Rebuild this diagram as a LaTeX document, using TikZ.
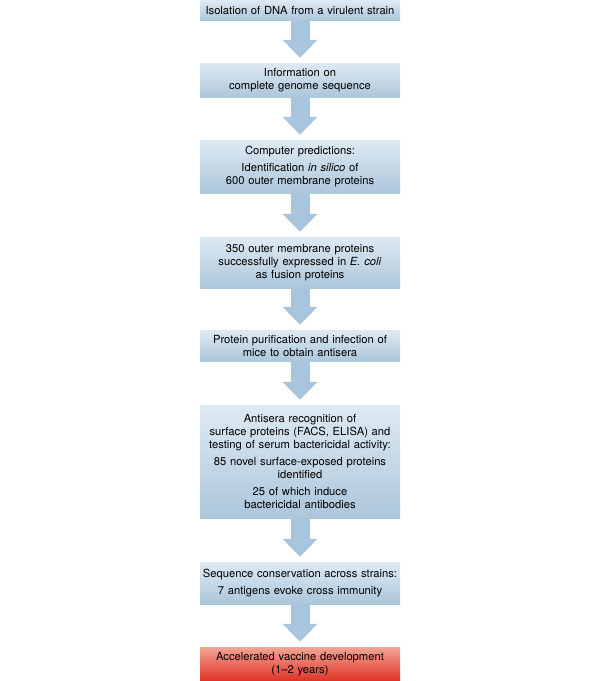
\documentclass[tikz,border=0pt]{standalone}
\usepackage{fontspec}
\setmainfont{TeX Gyre Heros}
\usetikzlibrary{arrows.meta}
\definecolor{boxtop}{RGB}{222,234,243}
\definecolor{boxbottom}{RGB}{172,198,219}
\definecolor{redtop}{RGB}{243,165,150}
\definecolor{redbottom}{RGB}{224,50,38}
\definecolor{arrowblue}{RGB}{168,197,221}
\tikzstyle{stepbox} = [rectangle, top color=boxtop, bottom color=boxbottom,
    minimum width=200pt, text width=200pt, inner xsep=0pt, inner ysep=2pt, align=center,
    font=\fontsize{11.2}{13}\selectfont]
\tikzstyle{endbox} = [stepbox, top color=redtop, bottom color=redbottom]
\tikzstyle{flowarrow} = [draw=arrowblue, line width=19pt,
    -{Triangle[width=34pt,length=18pt]}, shorten >=5pt]

\begin{document}
\begin{tikzpicture}
\useasboundingbox (0,0) rectangle (600pt,-681pt);
\node [stepbox, minimum height=20pt] (isolation) at (300pt,-10pt)
    {Isolation of DNA from a virulent strain};
\node [stepbox, minimum height=34pt] (genome) at (300pt,-80pt)
    {Information on\\complete genome sequence};
\node [stepbox, minimum height=53pt] (predict) at (300pt,-166.5pt)
    {Computer predictions:\\[4pt]
     Identification \textit{in silico} of\\600 outer membrane proteins};
\node [stepbox, minimum height=51pt] (express) at (300pt,-262.5pt)
    {350 outer membrane proteins\\successfully expressed in \textit{E. coli}\\as fusion proteins};
\node [stepbox, minimum height=31pt] (purify) at (300pt,-345.5pt)
    {Protein purification and infection of\\mice to obtain antisera};
\node [stepbox, minimum height=113pt] (antisera) at (300pt,-461.5pt)
    {Antisera recognition of\\surface proteins (FACS, ELISA) and\\testing of serum bactericidal activity:\\[4pt]
     85 novel surface-exposed proteins\\identified\\[4pt]
     25 of which induce\\bactericidal antibodies};
\node [stepbox, minimum height=42pt] (conserve) at (300pt,-583pt)
    {Sequence conservation across strains:\\[4pt]
     7 antigens evoke cross immunity};
\node [endbox, minimum height=34pt] (vaccine) at (300pt,-664pt)
    {Accelerated vaccine development\\(1--2 years)};

\draw [flowarrow] (isolation) -- (genome);
\draw [flowarrow] (genome) -- (predict);
\draw [flowarrow] (predict) -- (express);
\draw [flowarrow] (express) -- (purify);
\draw [flowarrow] (purify) -- (antisera);
\draw [flowarrow] (antisera) -- (conserve);
\draw [flowarrow] (conserve) -- (vaccine);
\end{tikzpicture}
\end{document}
